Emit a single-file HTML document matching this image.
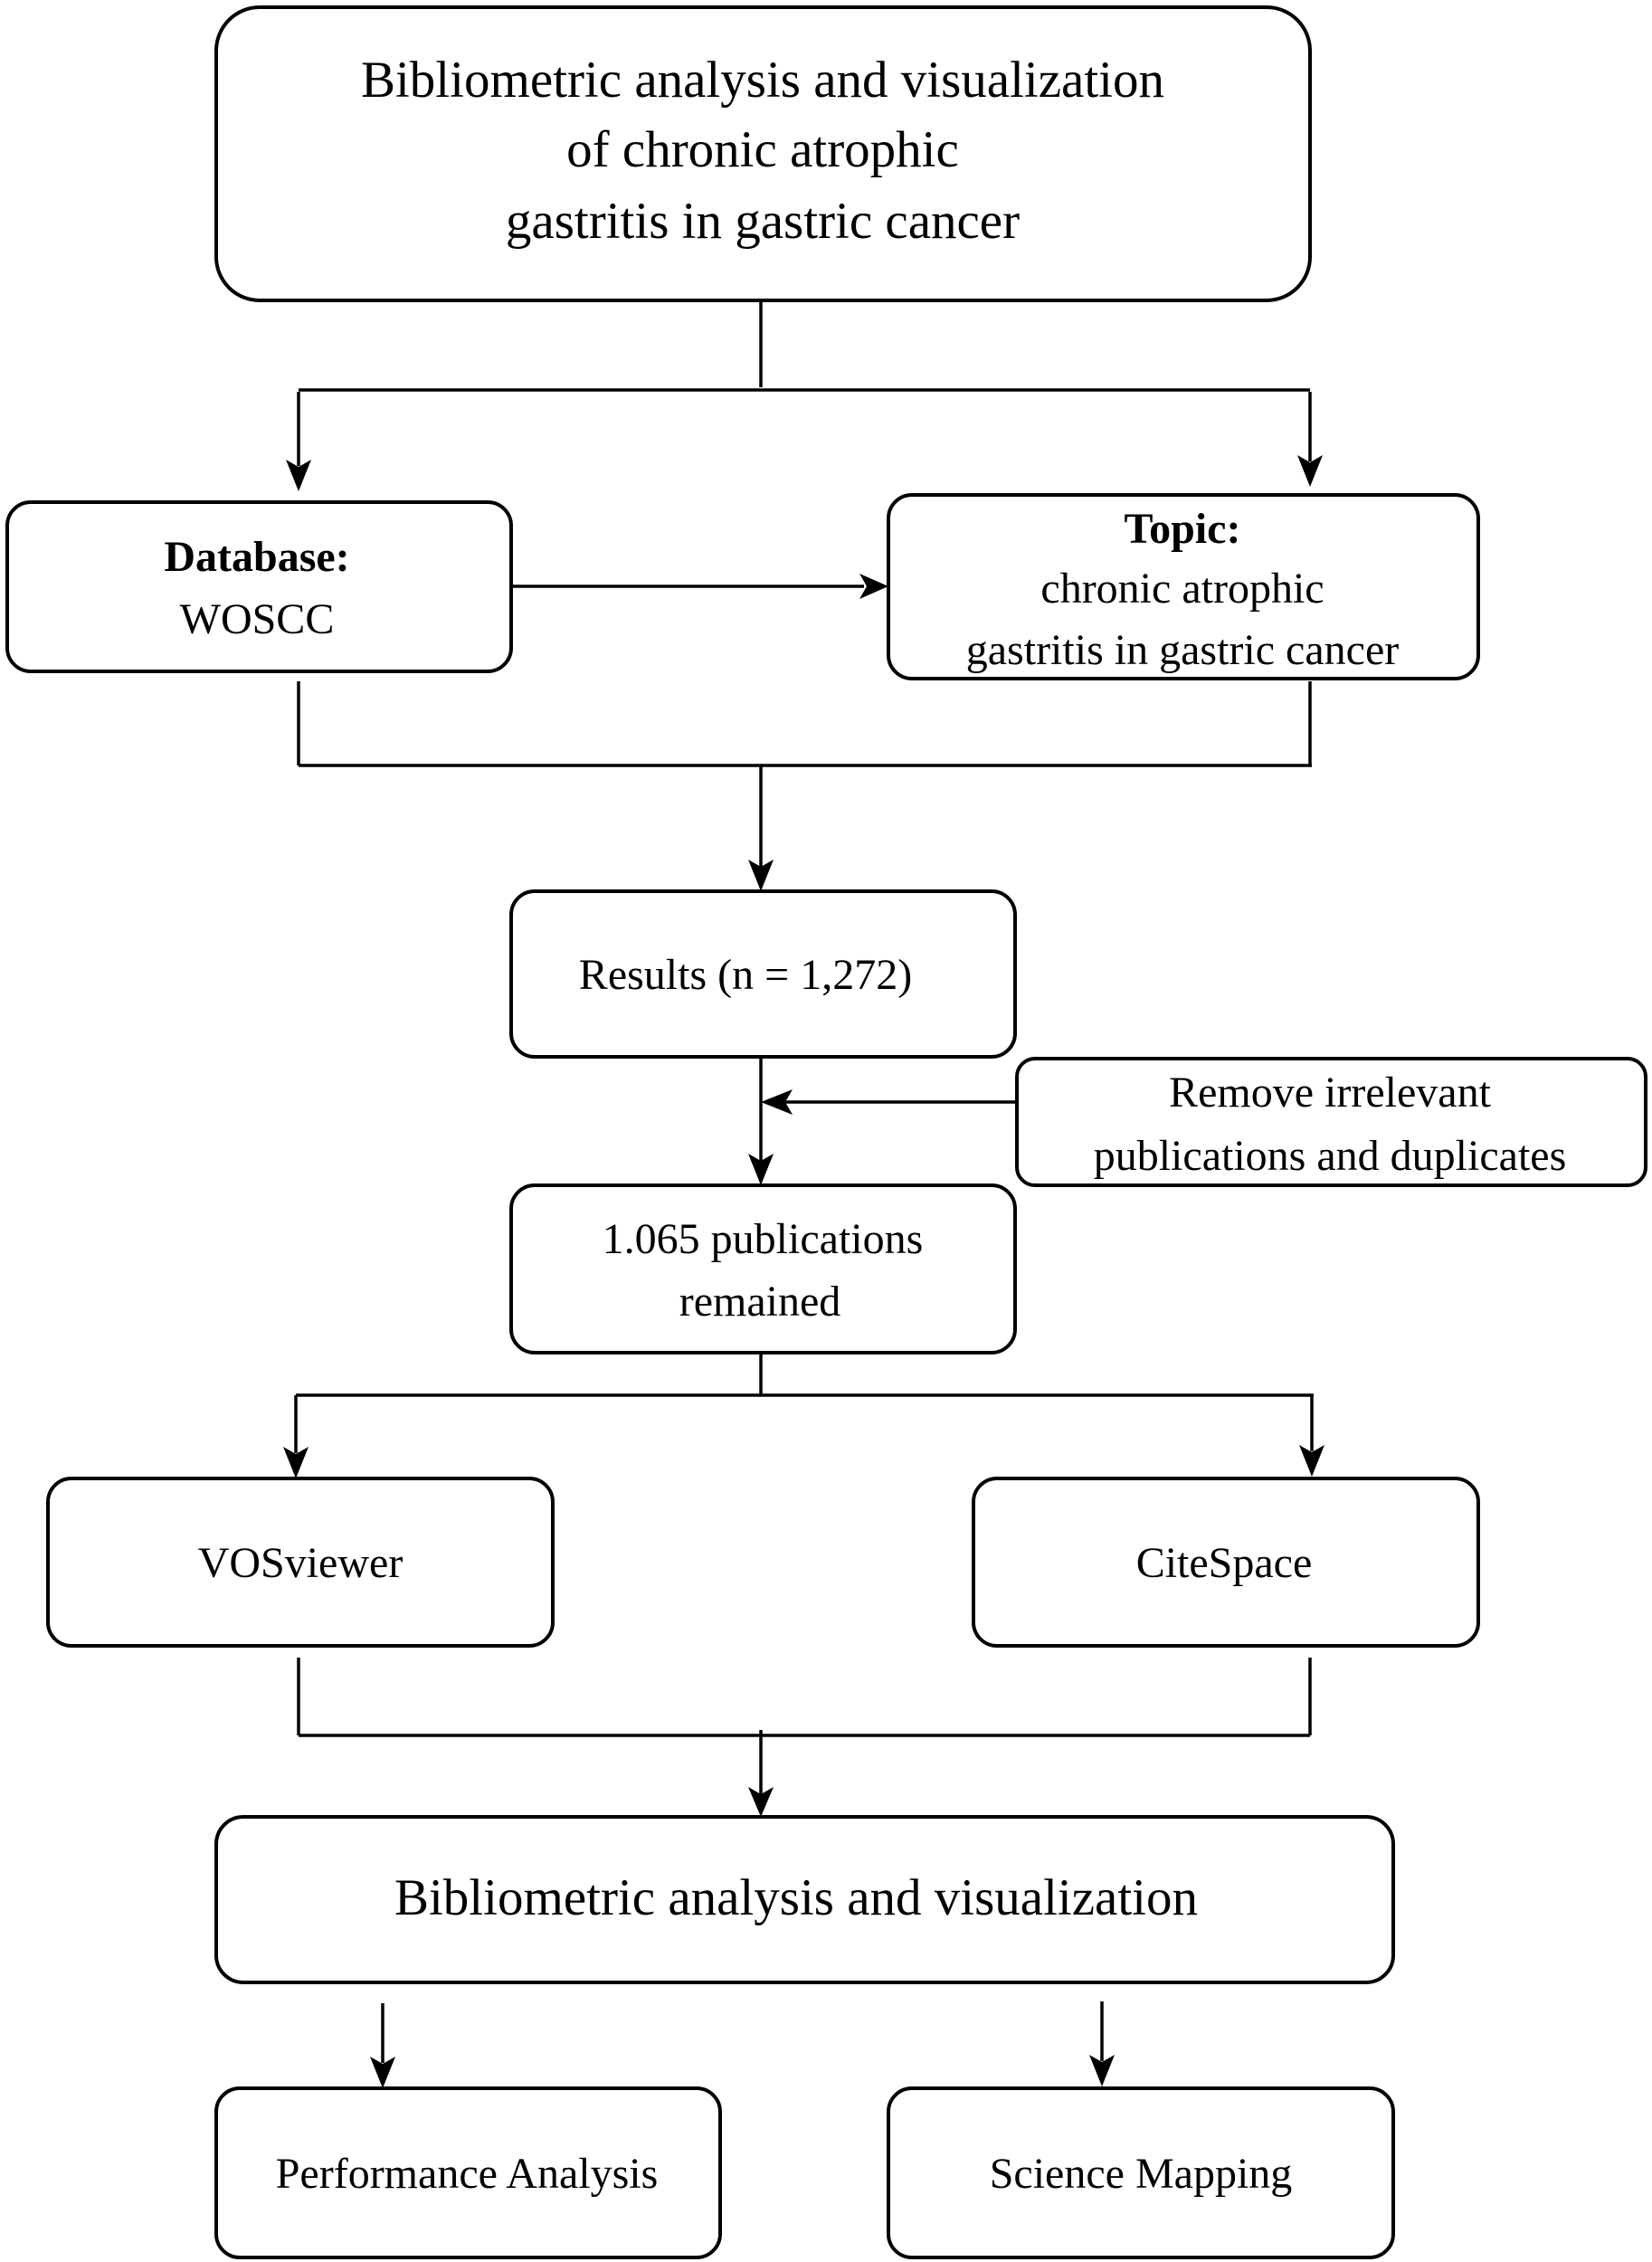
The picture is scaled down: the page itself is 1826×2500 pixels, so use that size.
<!DOCTYPE html>
<html><head><meta charset="utf-8"><style>
html,body{margin:0;padding:0;background:#fff}
svg{display:block}
text{font-family:"Liberation Serif",serif;fill:#000;text-anchor:middle}
</style></head><body>
<svg width="1826" height="2500" viewBox="0 0 1826 2500" xmlns="http://www.w3.org/2000/svg">
<defs>
<marker id="a" markerUnits="userSpaceOnUse" markerWidth="32" markerHeight="44" viewBox="0 0 32 44" refX="16" refY="42" orient="auto-start-reverse">
</marker>
</defs>
<g fill="none" stroke="#000" stroke-width="4">
<rect x="239" y="8" width="1209" height="324" rx="48"/>
<rect x="8" y="555" width="557" height="187" rx="26"/>
<rect x="982" y="547" width="652" height="203" rx="26"/>
<rect x="565" y="985" width="557" height="183" rx="26"/>
<rect x="1124" y="1170" width="695" height="140" rx="20"/>
<rect x="565" y="1310" width="557" height="185" rx="26"/>
<rect x="53" y="1634" width="558" height="185" rx="26"/>
<rect x="1076" y="1634" width="558" height="185" rx="26"/>
<rect x="239" y="2008" width="1301" height="183" rx="30"/>
<rect x="239" y="2308" width="557" height="187" rx="26"/>
<rect x="982" y="2308" width="558" height="187" rx="26"/>
<g stroke-width="3.5">
<path d="M841 332V428M330 431H1448"/>
<path d="M330 433V515M1448 433V510"/>
<path d="M565 648H955"/>
<path d="M330 753V846M1448 753V846M330 846H1450M841 846V958"/>
<path d="M841 1168V1283M1124 1218H868"/>
<path d="M841 1495V1542M327 1542H1452M327 1542V1606M1450 1542V1604"/>
<path d="M330 1832V1918M1448 1832V1918M330 1918H1448M841 1912V1983"/>
<path d="M423 2214V2280M1218 2212V2278"/>
</g>
</g>
<g fill="#000">
<path d="M316 508L330 543L344 508L330 516Z"/>
<path d="M1434 503L1448 538L1462 503L1448 511Z"/>
<path d="M950 634L982 648L950 662L958 648Z"/>
<path d="M827 950L841 985L855 950L841 958Z"/>
<path d="M827 1275L841 1310L855 1275L841 1283Z"/>
<path d="M876 1204L841 1218L876 1232L868 1218Z"/>
<path d="M313 1599L327 1634L341 1599L327 1607Z"/>
<path d="M1436 1597L1450 1632L1464 1597L1450 1605Z"/>
<path d="M827 1975L841 2008L855 1975L841 1983Z"/>
<path d="M409 2273L423 2308L437 2273L423 2281Z"/>
<path d="M1204 2271L1218 2306L1232 2271L1218 2279Z"/>
</g>
<g font-size="57">
<text x="843" y="107">Bibliometric analysis and visualization</text>
<text x="843" y="184">of chronic atrophic</text>
<text x="843" y="263">gastritis in gastric cancer</text>
<text x="880" y="2116">Bibliometric analysis and visualization</text>
</g>
<g font-size="48">
<text x="284" y="631" font-weight="bold">Database:</text>
<text x="284" y="700">WOSCC</text>
<text x="1307" y="600" font-weight="bold">Topic:</text>
<text x="1307" y="666">chronic atrophic</text>
<text x="1307" y="734">gastritis in gastric cancer</text>
<text x="824" y="1093">Results (n = 1,272)</text>
<text x="1470" y="1223">Remove irrelevant</text>
<text x="1470" y="1293">publications and duplicates</text>
<text x="843" y="1385">1.065 publications</text>
<text x="840" y="1454">remained</text>
<text x="332" y="1743">VOSviewer</text>
<text x="1353" y="1743">CiteSpace</text>
<text x="516" y="2418">Performance Analysis</text>
<text x="1261" y="2418">Science Mapping</text>
</g>
</svg>
</body></html>
